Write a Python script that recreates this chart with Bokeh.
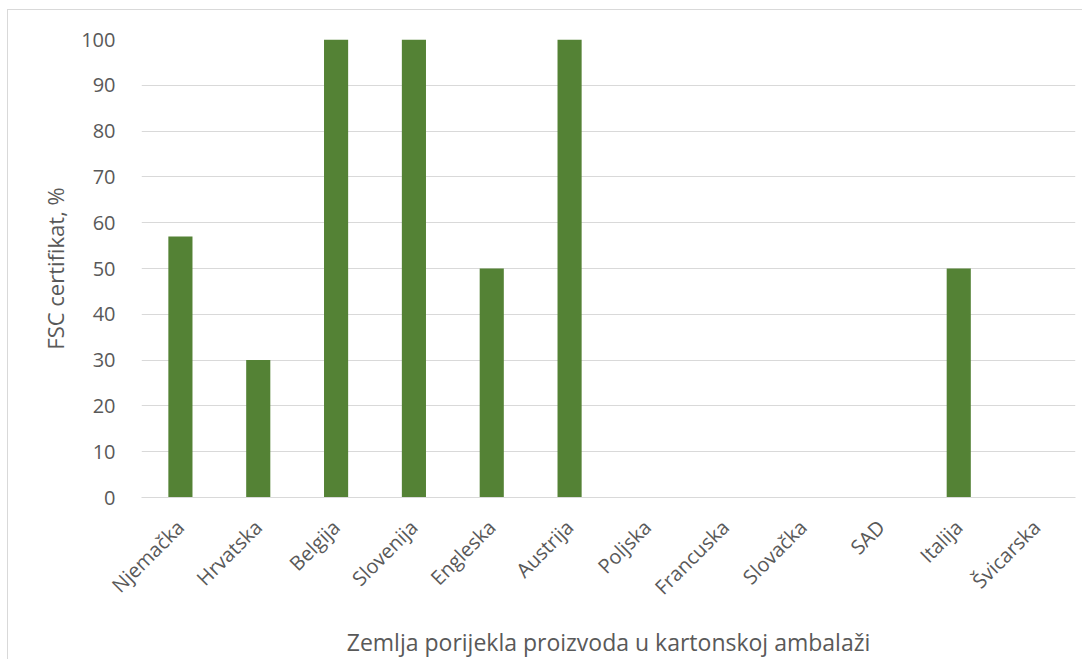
from bokeh.plotting import figure
from bokeh.models import Range1d, SingleIntervalTicker, ColumnDataSource
from bokeh.embed import file_html
from bokeh.resources import INLINE
import math

countries = ["Njemačka", "Hrvatska", "Belgija", "Slovenija", "Engleska", "Austrija",
             "Poljska", "Francuska", "Slovačka", "SAD", "Italija", "Švicarska"]
fsc = [57, 30, 100, 100, 50, 100, 0, 0, 0, 0, 50, 0]

FONT = "Open Sans"
TXT = "#595959"
GRID = "#d9d9d9"

src = ColumnDataSource(dict(x=countries, top=fsc))

p = figure(x_range=countries, y_range=Range1d(0, 100), width=1075, height=650,
           output_backend="svg", toolbar_location=None,
           min_border_left=133, min_border_top=29, min_border_right=8, min_border_bottom=163)
p.styles = {"border-top": "1px solid #d9d9d9", "border-left": "1px solid #d9d9d9",
            "margin-top": "9px", "margin-left": "7px"}

p.vbar(x="x", top="top", width=0.31, source=src, fill_color="#548235", line_color=None)

p.outline_line_color = None
p.x_range.range_padding = 0

p.xgrid.grid_line_color = None
p.ygrid.grid_line_color = GRID
p.ygrid.grid_line_width = 1

p.yaxis.ticker = SingleIntervalTicker(interval=10)
p.yaxis.axis_line_color = None
p.yaxis.major_tick_line_color = None
p.yaxis.minor_tick_line_color = None
p.yaxis.major_tick_out = 0
p.yaxis.major_label_standoff = 22
p.yaxis.major_label_text_font = FONT
p.yaxis.major_label_text_font_size = "20px"
p.yaxis.major_label_text_color = TXT
p.yaxis.axis_label = "FSC certifikat, %"
p.yaxis.axis_label_text_font = FONT
p.yaxis.axis_label_text_font_size = "22px"
p.yaxis.axis_label_text_font_style = "normal"
p.yaxis.axis_label_text_color = TXT
p.yaxis.axis_label_standoff = 8

p.xaxis.axis_line_color = GRID
p.xaxis.axis_line_width = 1
p.xaxis.major_tick_line_color = None
p.xaxis.minor_tick_line_color = None
p.xaxis.major_tick_out = 0
p.xaxis.major_label_orientation = math.pi / 4
p.xaxis.major_label_standoff = 26
p.xaxis.major_label_text_font = FONT
p.xaxis.major_label_text_font_size = "20px"
p.xaxis.major_label_text_color = TXT
p.xaxis.axis_label = "Zemlja porijekla proizvoda u kartonskoj ambalaži"
p.xaxis.axis_label_text_font = FONT
p.xaxis.axis_label_text_font_size = "23px"
p.xaxis.axis_label_text_font_style = "normal"
p.xaxis.axis_label_text_color = TXT
p.xaxis.axis_label_standoff = 13

open("out.html", "w").write(file_html(p, INLINE))
